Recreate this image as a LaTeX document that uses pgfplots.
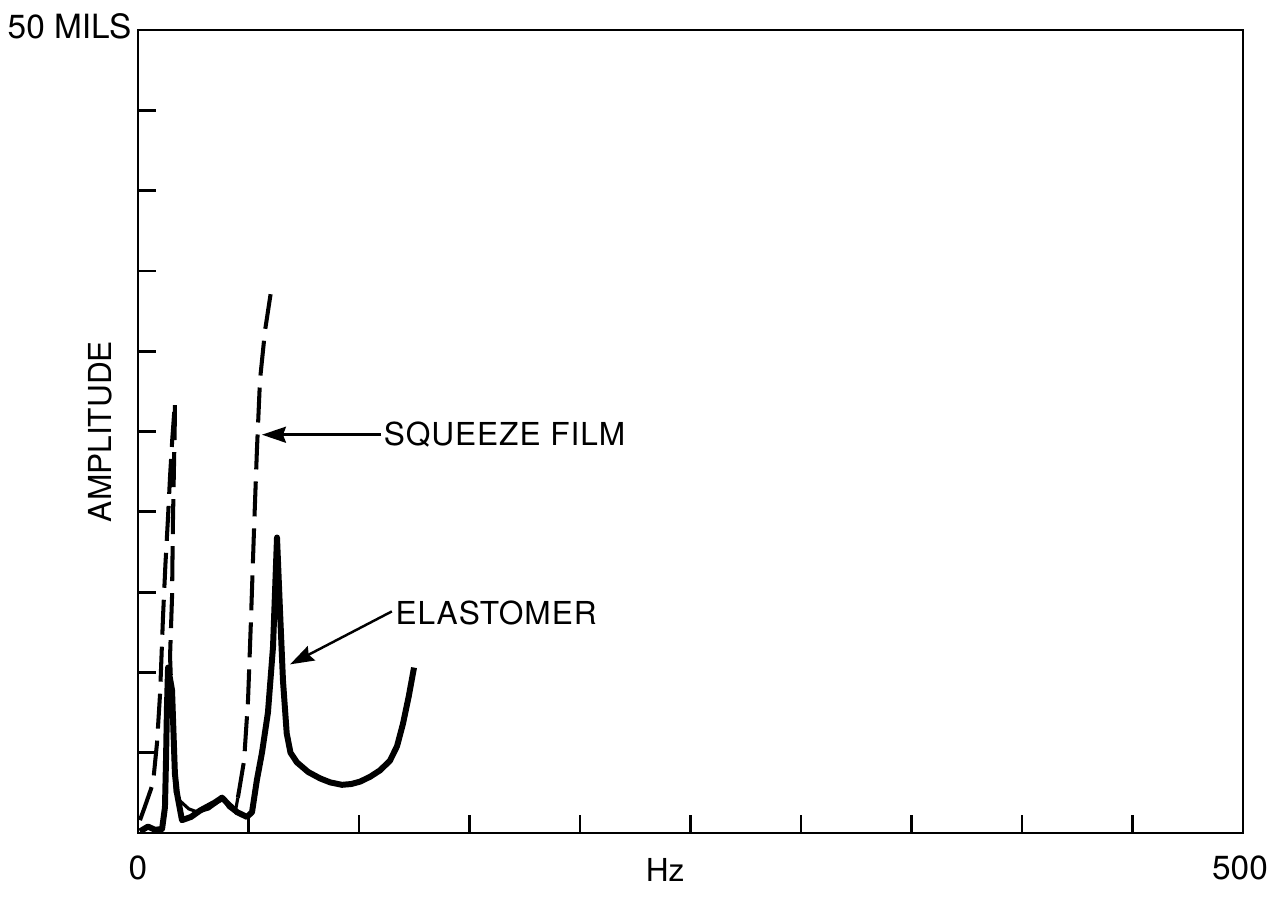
\documentclass[border=0pt]{standalone}
\usepackage{fontspec}
\setmainfont{TeX Gyre Heros}
\usepackage{pgfplots}
\pgfplotsset{compat=1.18}
\usetikzlibrary{arrows.meta}

\begin{document}
\begin{tikzpicture}[font=\fontsize{9}{10}\selectfont]
% fixed page: axis box is (0,0)--(110.5mm,80.3mm)
\path[use as bounding box] (-13.8mm,-6.7mm) rectangle (113.1mm,83.3mm);
\begin{axis}[
  name=ax, at={(0,0)}, anchor=south west,
  scale only axis, width=110.5mm, height=80.3mm,
  xmin=0, xmax=500, ymin=0, ymax=50,
  xtick={50,100,...,450}, ytick={5,10,...,45},
  xticklabels={}, yticklabels={},
  tick align=inside, xtick pos=bottom, ytick pos=left,
  major tick length=1.8mm,
  tick style={line width=0.8pt, black},
  axis line style={line width=0.8pt},
  clip=false,
]
% elastomer
\addplot[black, line width=1.7pt, line join=round] coordinates {
  (0.9,0.1) (4.5,0.4) (7.7,0.2) (10.9,0.25) (12.2,1.6) (12.7,4.7) (13.1,7.8) (13.6,10.3)
  (15.4,8.9) (16.7,3.7) (17.6,2.5) (19.9,0.8) (24,1.0) (28.1,1.4) (34.8,1.9) (38.0,2.2)
  (41.6,1.7) (44.8,1.3) (49.3,1.0) (51.6,1.3) (53.8,3.3) (56.1,5.0) (58.8,7.5) (61.1,11.6)
  (62.9,18.4) (64.3,13.7) (65.6,9.5) (67.3,6.2) (69,5.0) (71.9,4.4) (77,3.8) (82.4,3.4)
  (87,3.15) (92.3,3.0) (96.5,3.05) (100.5,3.2) (105,3.5) (109.5,3.9) (114,4.5) (117.2,5.4)
  (119.9,6.8) (122.5,8.5) (124.9,10.3)
};
% squeeze film, first peak
\addplot[black, line width=1.15pt, dash pattern=on 3.5mm off 1.2mm] coordinates {
  (0.9,0.8) (3,1.6) (6.8,3.1) (8.6,5.6) (10.0,8.7) (11.3,13.4) (12.4,16.7) (13.6,19.7)
  (14.5,22.2) (15.5,24.5) (16.7,26.8) (16.7,25.9) (15.8,19.3) (15.4,14.7) (14.5,11.0)
  (15.2,8.5) (16.3,4.5) (17.1,2.5)
};
% squeeze film, low part
\addplot[black, line width=0.9pt] coordinates {
  (17.1,2.5) (19,2.0) (23,1.5) (27,1.3) (32,1.5) (36,1.9) (38.5,2.1) (41,1.6) (44,1.3) (45.2,2.2)
};
% squeeze film, second rise
\addplot[black, line width=1.15pt, dash pattern=on 3.5mm off 1.2mm] coordinates {
  (45.2,2.2) (48.0,4.5) (49.8,8.3) (51.1,13.2) (52.5,18.9) (53.8,23.8) (55.2,28.2)
  (57.5,31.3) (60.6,34.1)
};
\draw[line width=0.7pt, -{Stealth[length=2.4mm,width=1.6mm,inset=0.3mm]}]
  (axis cs:110,24.8) -- (axis cs:56.1,24.8);
\draw[line width=0.7pt, -{Stealth[length=2.4mm,width=1.6mm,inset=0.3mm]}]
  (axis cs:114.9,13.8) -- (axis cs:68.8,10.5);
\node[anchor=west, inner sep=0] at (axis cs:110.9,24.8) {\addfontfeatures{LetterSpace=3}SQUEEZE FILM};
\node[anchor=west, inner sep=0] at (axis cs:116.3,13.7) {\addfontfeatures{LetterSpace=3}ELASTOMER};
\node[rotate=90, inner sep=0] at ([xshift=-3.8mm]axis cs:0,25) {AMPLITUDE};
\node[anchor=west, inner sep=0, font=\fontsize{9.5}{11}\selectfont] at ([xshift=-13.1mm, yshift=0.4mm]axis cs:0,50) {50 MILS};
\node[inner sep=0, font=\fontsize{9.5}{11}\selectfont] at ([yshift=-3.5mm]axis cs:0,0) {0};
\node[inner sep=0, font=\fontsize{9.5}{11}\selectfont] at ([xshift=-0.3mm, yshift=-3.5mm]axis cs:500,0) {500};
\node[inner sep=0] at ([yshift=-3.7mm]axis cs:238.5,0) {Hz};
\end{axis}
\end{tikzpicture}
\end{document}
